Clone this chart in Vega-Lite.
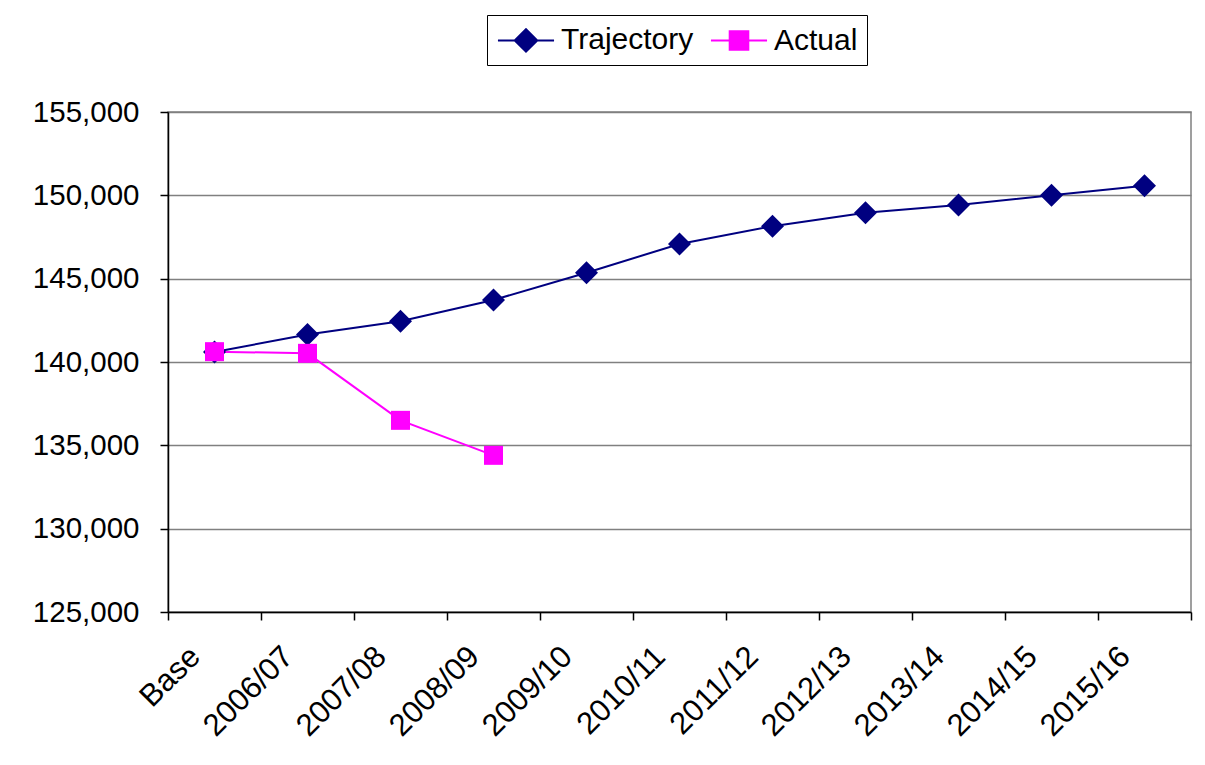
{
  "$schema": "https://vega.github.io/schema/vega-lite/v6.json",
  "autosize": "none",
  "width": 1023,
  "height": 500,
  "padding": {"left": 168, "top": 112, "right": 14, "bottom": 153},
  "background": "white",
  "config": {
    "font": "Liberation Sans",
    "view": {"stroke": "#808080", "strokeWidth": 1.5},
    "axis": {"labelFont": "Liberation Sans", "labelColor": "black", "domainColor": "black", "tickColor": "black", "domainWidth": 1.5, "tickWidth": 1.5}
  },
  "data": {
    "values": [
      {"year": "Base", "series": "Trajectory", "value": 140600},
      {"year": "2006/07", "series": "Trajectory", "value": 141650},
      {"year": "2007/08", "series": "Trajectory", "value": 142450},
      {"year": "2008/09", "series": "Trajectory", "value": 143720},
      {"year": "2009/10", "series": "Trajectory", "value": 145360},
      {"year": "2010/11", "series": "Trajectory", "value": 147080},
      {"year": "2011/12", "series": "Trajectory", "value": 148150},
      {"year": "2012/13", "series": "Trajectory", "value": 148960},
      {"year": "2013/14", "series": "Trajectory", "value": 149420},
      {"year": "2014/15", "series": "Trajectory", "value": 150010},
      {"year": "2015/16", "series": "Trajectory", "value": 150580},
      {"year": "Base", "series": "Actual", "value": 140620},
      {"year": "2006/07", "series": "Actual", "value": 140520},
      {"year": "2007/08", "series": "Actual", "value": 136500},
      {"year": "2008/09", "series": "Actual", "value": 134400}
    ]
  },
  "encoding": {
    "x": {
      "field": "year", "type": "nominal", "sort": null, "title": null,
      "scale": {"type": "band", "paddingInner": 0, "paddingOuter": 0},
      "axis": {"labelAngle": -45, "labelFontSize": 31, "tickBand": "extent", "tickSize": 8, "labelPadding": 21, "labelOffset": -30, "grid": false}
    },
    "y": {
      "field": "value", "type": "quantitative", "title": null,
      "scale": {"domain": [125000, 155000], "nice": false, "zero": false},
      "axis": {"values": [125000, 130000, 135000, 140000, 145000, 150000, 155000], "format": ",.0f", "labelFontSize": 29.5, "tickSize": 8, "labelPadding": 21, "grid": true, "gridColor": "#808080", "gridWidth": 1.5}
    },
    "color": {
      "field": "series", "type": "nominal", "title": null,
      "scale": {"domain": ["Trajectory", "Actual"], "range": ["#000080", "#FF00FF"]},
      "legend": {
        "orient": "none", "legendX": 319, "legendY": -97, "direction": "horizontal",
        "labelFontSize": 30, "labelColor": "black", "labelOffset": 19, "columnPadding": 12,
        "padding": 9, "strokeColor": "black", "fillColor": "white",
        "symbolSize": 900, "symbolOffset": 14, "symbolStrokeWidth": 2, "symbolOpacity": 1,
        "encode": {
          "symbols": {
            "update": {
              "shape": {"signal": "datum.value === 'Trajectory' ? 'M-1.87,0H1.87M-0.75,0L0,-0.75L0.75,0L0,0.75Z' : 'M-1.87,0H1.87M-0.62,-0.62H0.62V0.62H-0.62Z'"},
              "stroke": {"signal": "datum.value === 'Trajectory' ? '#000080' : '#FF00FF'"},
              "fill": {"signal": "datum.value === 'Trajectory' ? '#000080' : '#FF00FF'"},
              "strokeWidth": {"value": 2},
              "opacity": {"value": 1}
            }
          }
        }
      }
    }
  },
  "layer": [
    {
      "mark": {"type": "line", "strokeWidth": 2}
    },
    {
      "mark": {"type": "point", "filled": true, "opacity": 1},
      "encoding": {
        "shape": {"condition": {"test": "datum.series === 'Trajectory'", "value": "diamond"}, "value": "square"},
        "size": {"condition": {"test": "datum.series === 'Trajectory'", "value": 529}, "value": 361}
      }
    }
  ]
}
